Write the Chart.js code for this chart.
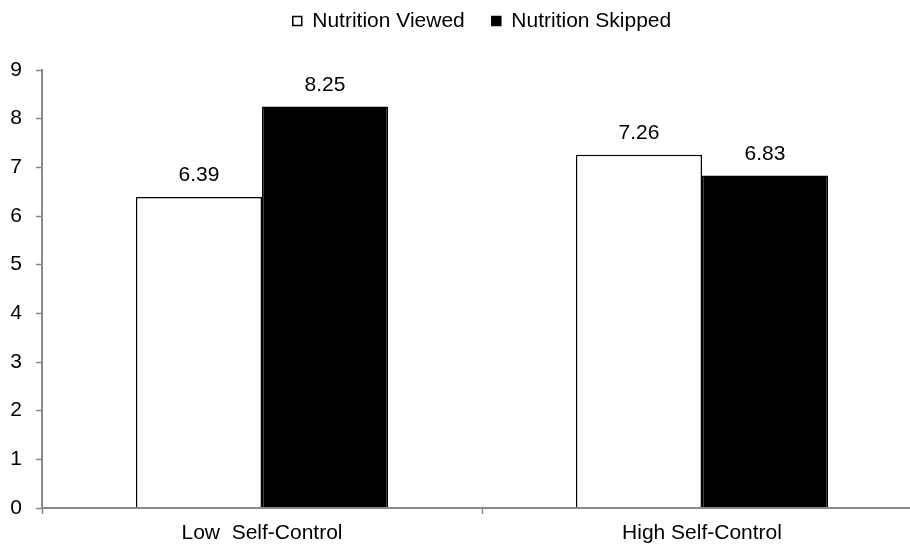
<!DOCTYPE html>
<html>
<head>
<meta charset="utf-8">
<script src="https://cdn.jsdelivr.net/npm/chart.js@4/dist/chart.umd.min.js"></script>
<style>
  html, body { margin: 0; padding: 0; overflow: hidden; background: #fff; }
  #wrap { width: 922px; height: 544px; }
</style>
</head>
<body>
<div id="wrap"><canvas id="chart"></canvas></div>
<script>
const categories = ['Low  Self-Control', 'High Self-Control'];
const seriesNames = ['Nutrition Viewed', 'Nutrition Skipped'];
const viewed = [6.39, 7.26];
const skipped = [8.25, 6.83];
const yMin = 0, yMax = 9, yStep = 1;

const axisGray = '#898989';
const fontFamily = '"Liberation Sans", Arial, sans-serif';
Chart.defaults.font.family = fontFamily;
Chart.defaults.font.size = 21;
Chart.defaults.color = '#000';

// value above every bar
const barValues = {
  id: 'barValues',
  afterDatasetsDraw(chart) {
    const ctx = chart.ctx;
    ctx.save();
    ctx.font = '21px ' + fontFamily;
    ctx.fillStyle = '#000';
    ctx.textAlign = 'center';
    ctx.textBaseline = 'alphabetic';
    chart.data.datasets.forEach((ds, i) => {
      chart.getDatasetMeta(i).data.forEach((bar, j) => {
        ctx.fillText(ds.data[j].toFixed(2), bar.x, bar.y - 16);
      });
    });
    ctx.restore();
  }
};

new Chart(document.getElementById('chart'), {
  type: 'bar',
  data: {
    labels: categories,
    datasets: [
      {
        label: seriesNames[0],
        data: viewed,
        backgroundColor: '#fff',
        borderColor: '#000',
        borderWidth: 1.5
      },
      {
        label: seriesNames[1],
        data: skipped,
        backgroundColor: '#000',
        borderColor: '#000',
        borderWidth: 1.5
      }
    ]
  },
  options: {
    responsive: true,
    maintainAspectRatio: false,
    animation: false,
    layout: { padding: { top: -16.5, left: 0, right: 0, bottom: 0 } },
    datasets: {
      bar: { categoryPercentage: 0.573, barPercentage: 1 }
    },
    plugins: {
      tooltip: { enabled: false },
      legend: {
        position: 'top',
        fullSize: false,
        weight: 1000,
        labels: {
          boxWidth: 9,
          boxHeight: 9,
          padding: 27,
          color: '#000',
          font: { size: 21 }
        }
      },
      // empty title used as a gap under the legend
      title: {
        display: true,
        text: '',
        weight: 100,
        font: { size: 10, lineHeight: 1 },
        padding: { top: 0, bottom: 18.5 }
      }
    },
    scales: {
      x: {
        grid: {
          offset: true,
          drawOnChartArea: false,
          tickLength: 6,
          tickColor: axisGray,
          tickWidth: 1.5
        },
        border: { color: axisGray, width: 2, z: 1 },
        ticks: { color: '#000', padding: 7, maxRotation: 0, font: { size: 21 } },
        afterFit: (scale) => { scale.height = 36; }
      },
      y: {
        min: yMin,
        max: yMax,
        ticks: { stepSize: yStep, color: '#000', padding: 14, font: { size: 21 } },
        grid: {
          drawOnChartArea: false,
          tickLength: 6,
          tickColor: axisGray,
          tickWidth: 1.5
        },
        border: { color: axisGray, width: 2 },
        afterFit: (scale) => { scale.width = 42; }
      }
    }
  },
  plugins: [barValues]
});
</script>
</body>
</html>
